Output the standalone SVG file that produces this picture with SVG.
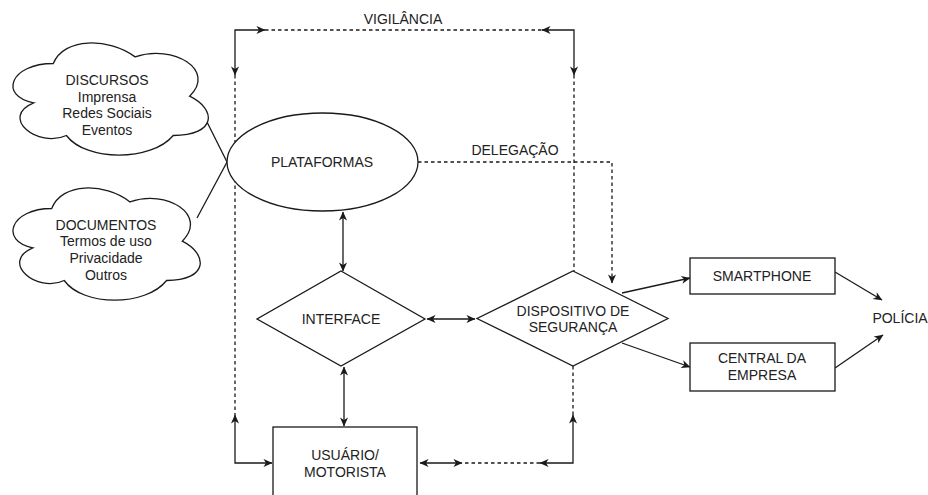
<svg xmlns="http://www.w3.org/2000/svg" width="928" height="495" viewBox="0 0 928 495">
<defs>
<marker id="ar" viewBox="0 0 10 10" refX="9.5" refY="5" markerWidth="10" markerHeight="9" markerUnits="userSpaceOnUse" orient="auto-start-reverse">
<path d="M0,0.5 L10,5 L0,9.5 L2.8,5 Z" fill="#1a1a1a" stroke="none"/>
</marker>
</defs>
<style>
.ln{fill:none;stroke:#1a1a1a;stroke-width:1.3}
.dl{fill:none;stroke:#1a1a1a;stroke-width:1.3;stroke-dasharray:3.5 3}
.ar{marker-start:url(#ar);marker-end:url(#ar)}
.ae{marker-end:url(#ar)}
.sh{fill:#fff;stroke:#1a1a1a;stroke-width:1.3}
text{font-family:"Liberation Sans",Arial,Helvetica,sans-serif;font-size:14px;fill:#222;text-anchor:middle}
</style>
<rect width="928" height="495" fill="#fff"/>
<g id="connectors">
<path class="ln ar" d="M235,75 L235,30 L265,30"/>
<path class="dl" d="M265,30 L542,30"/>
<path class="ln ar" d="M574,75 L574,30 L542,30"/>
<path class="dl" d="M235,75 L235,415"/>
<path class="ln ar" d="M235,415 L235,463 L272,463"/>
<path class="dl" d="M574,75 L574,271"/>
<path class="dl" d="M573,366 L573,415"/>
<path class="ln ar" d="M573,415 L573,463 L540,463"/>
<path class="dl" d="M540,463 L462,463"/>
<path class="ln ar" d="M420,463 L462,463"/>
<path class="dl ae" d="M418,162 L612,162 L612,283"/>
<path class="ln ar" d="M343,212 L343,271"/>
<path class="ln ar" d="M344,367 L344,426"/>
<path class="ln ar" d="M427,319 L475,319"/>
<path class="ln" d="M207,122 L227,162 L197,218"/>
<path class="ln ae" d="M622,293 L690,278"/>
<path class="ln ae" d="M622,343 L690,367"/>
<path class="ln ae" d="M835,272 L882,300"/>
<path class="ln ae" d="M835,368 L883,335"/>
<text x="403" y="24">VIGILÂNCIA</text>
<text x="515" y="155">DELEGAÇÃO</text>
</g>
<g id="discursos">
<path class="sh" d="M53.3,63.5 C9.7,63.5 -1.2,96.2 33.7,102.8 C-1.2,117.2 38.0,148.6 66.4,135.5 C86.0,161.7 151.4,161.7 173.2,135.5 C216.8,135.5 216.8,109.3 189.6,96.2 C216.8,70.0 173.2,43.8 135.1,56.9 C107.8,37.3 64.2,37.3 53.3,63.5 Z"/>
<text x="107" y="85">DISCURSOS</text>
<text x="107" y="102">Imprensa</text>
<text x="107" y="118">Redes Sociais</text>
<text x="107" y="135">Eventos</text>
</g>
<g id="documentos">
<path class="sh" d="M51.7,208.5 C9.9,208.5 -0.6,241.2 32.8,247.8 C-0.6,262.2 37.0,293.6 64.2,280.5 C83.0,306.7 145.7,306.7 166.6,280.5 C208.4,280.5 208.4,254.3 182.3,241.2 C208.4,215.0 166.6,188.8 130.0,201.9 C103.9,182.3 62.1,182.3 51.7,208.5 Z"/>
<text x="106" y="230">DOCUMENTOS</text>
<text x="106" y="246">Termos de uso</text>
<text x="106" y="263">Privacidade</text>
<text x="106" y="280">Outros</text>
</g>
<g id="plataformas">
<ellipse class="sh" cx="322.5" cy="162" rx="95.5" ry="49"/>
<text x="322" y="167">PLATAFORMAS</text>
</g>
<g id="interface">
<polygon class="sh" points="341,271 425,319 341,366 257,319"/>
<text x="341" y="324">INTERFACE</text>
</g>
<g id="dispositivo">
<polygon class="sh" points="573,271 668,318.5 573,366 477,318.5"/>
<text x="573" y="316">DISPOSITIVO DE</text>
<text x="573" y="332">SEGURANÇA</text>
</g>
<g id="usuario">
<rect class="sh" x="273" y="427" width="144" height="80"/>
<text x="345" y="460">USUÁRIO/</text>
<text x="345" y="477">MOTORISTA</text>
</g>
<g id="smartphone">
<rect class="sh" x="690" y="258" width="145" height="36"/>
<text x="762" y="281">SMARTPHONE</text>
</g>
<g id="central">
<rect class="sh" x="690" y="343" width="145" height="48"/>
<text x="762" y="363">CENTRAL DA</text>
<text x="762" y="380">EMPRESA</text>
</g>
<g id="policia">
<text x="900" y="323">POLÍCIA</text>
</g>
</svg>
